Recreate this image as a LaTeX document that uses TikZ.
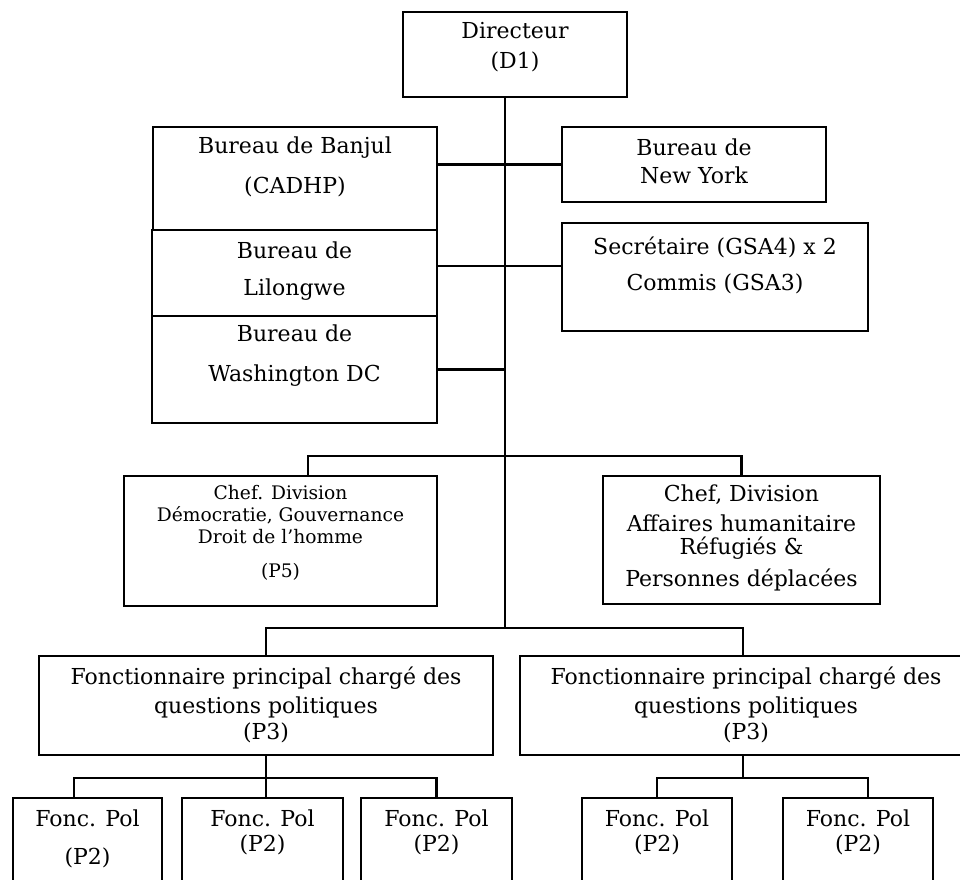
\documentclass[tikz,border=0pt]{standalone}
\usepackage{fontspec}
\setmainfont{DejaVu Serif}
\begin{document}
\begin{tikzpicture}[x=0.75pt,y=-0.75pt,
  box/.style={draw, line width=2pt, rectangle, inner sep=0pt},
  txt/.style={align=center, inner sep=0pt, font=\fontsize{16.5}{21}\selectfont},
  conn/.style={line width=2pt}]
\clip (0,0) rectangle (960,880);
\fill[white] (0,0) rectangle (960,880);
% boxes
\node[box, minimum width=168pt, minimum height=63.75pt] (dir) at (515,54.5) {};
\node[box, minimum width=213pt, minimum height=77.25pt] (banjul) at (295,178.5) {};
\node[box, minimum width=213.75pt, minimum height=64.5pt] (lil) at (294.5,273) {};
\node[box, minimum width=213.75pt, minimum height=80.25pt] (wash) at (294.5,369.5) {};
\node[box, minimum width=198pt, minimum height=56.25pt] (ny) at (694,164.5) {};
\node[box, minimum width=229.5pt, minimum height=81pt] (sec) at (715,277) {};
\node[box, minimum width=234.75pt, minimum height=97.5pt] (chefd) at (280.5,541) {};
\node[box, minimum width=207.75pt, minimum height=96pt] (chefh) at (741.5,540) {};
\node[box, minimum width=340.5pt, minimum height=74.25pt] (fpl) at (266,705.5) {};
\node[box, minimum width=334.5pt, minimum height=74.25pt] (fpr) at (743,705.5) {};
\node[box, minimum width=111.75pt, minimum height=70.5pt] (f1) at (87.5,845) {};
\node[box, minimum width=120.75pt, minimum height=70.5pt] (f2) at (262.5,845) {};
\node[box, minimum width=113.25pt, minimum height=70.5pt] (f3) at (436.5,845) {};
\node[box, minimum width=112.5pt, minimum height=70.5pt] (f4) at (657,845) {};
\node[box, minimum width=112.5pt, minimum height=70.5pt] (f5) at (858,845) {};
% texts
\node[txt] (tdir) at (515,47) {Directeur\\[1.5pt](D1)};
\node[txt] (tbanjul) at (295,167) {Bureau de Banjul\\[9pt](CADHP)};
\node[txt] (tlil) at (294.5,271.5) {Bureau de\\[6.75pt]Lilongwe};
\node[txt] (twash) at (294.5,356) {Bureau de\\[9pt]Washington DC};
\node[txt] (tny) at (694,161) {Bureau de\\New York};
\node[txt] (tsec) at (715,265) {Secrétaire (GSA4) x 2\\[6pt]Commis (GSA3)};
\node[txt, font=\fontsize{14}{16.5}\selectfont] (tchefd) at (280.5,533) {Chef. Division\\Démocratie, Gouvernance\\Droit de l'homme\\[9pt](P5)};
\node[txt, font=\fontsize{16.5}{17.25}\selectfont] (tchefh) at (741.5,537.5) {Chef, Division\\[5.25pt]Affaires humanitaire\\Réfugiés \&\\[6.75pt]Personnes déplacées};
\node[txt, font=\fontsize{16.5}{19.5}\selectfont] (tfpl) at (266,704.5) {Fonctionnaire principal chargé des\\[2.25pt]questions politiques\\(P3)};
\node[txt, font=\fontsize{16.5}{19.5}\selectfont] (tfpr) at (746,704.5) {Fonctionnaire principal chargé des\\[2.25pt]questions politiques\\(P3)};
\node[txt] (tf1) at (87.5,839) {Fonc. Pol\\[7.5pt](P2)};
\node[txt, font=\fontsize{16.5}{18.75}\selectfont] (tf2) at (262.5,832.5) {Fonc. Pol\\(P2)};
\node[txt, font=\fontsize{16.5}{18.75}\selectfont] (tf3) at (436.5,832.5) {Fonc. Pol\\(P2)};
\node[txt, font=\fontsize{16.5}{18.75}\selectfont] (tf4) at (657,832.5) {Fonc. Pol\\(P2)};
\node[txt, font=\fontsize{16.5}{18.75}\selectfont] (tf5) at (858,832.5) {Fonc. Pol\\(P2)};
% junctions
\coordinate (j1) at (505,456);
\coordinate (j2) at (505,628);
\coordinate (b3) at (266,778);
\coordinate (b4) at (743,778);
% connectors
\draw[conn] (j2 |- dir.south) -- (j2);
\draw[conn] (banjul.east |- ny.west) -- (ny.west);
\draw[conn] ([yshift=5.25pt]lil.east) coordinate (l1) -- (l1 -| sec.west);
\draw[conn] (wash.east) -- (wash.east -| j1);
\draw[conn] ([xshift=20.6pt]chefd.north) |- (j1) -| (chefh.north);
\draw[conn] (fpl.north) |- (j2) -| (fpr.north);
\draw[conn] (fpl.south) -- (b3);
\draw[conn] ([xshift=-10.1pt]f1.north) |- (b3) -| (f3.north);
\draw[conn] (b3) -- (b3 |- f2.north);
\draw[conn] (fpr.south) -- (b4);
\draw[conn] (f4.north) |- (b4) -| ([xshift=7.5pt]f5.north);
\end{tikzpicture}
\end{document}
